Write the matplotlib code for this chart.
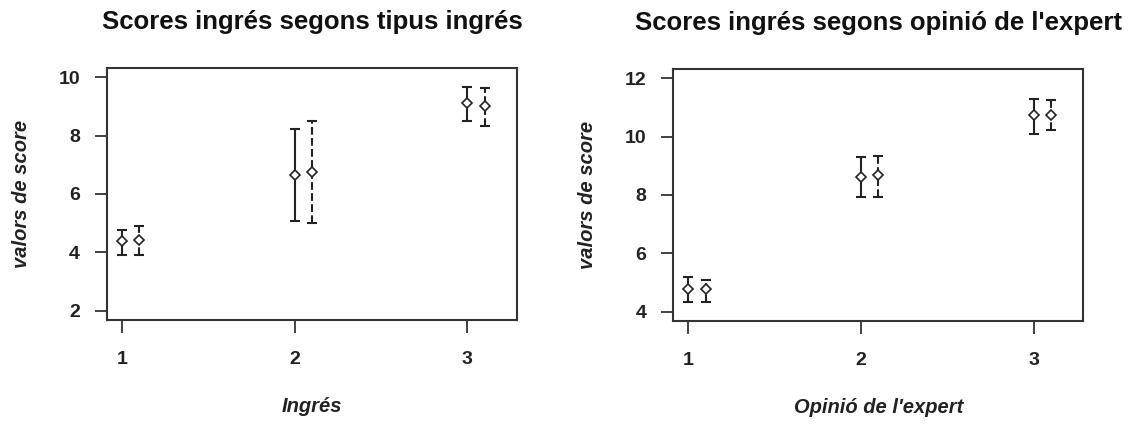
import matplotlib
matplotlib.use("Agg")
import matplotlib.pyplot as plt
import numpy as np

plt.rcParams['font.family'] = ['Liberation Sans', 'DejaVu Sans']

groups = [1, 2, 3]
offset = 0.1

# Panel 1: Scores ingrés segons tipus ingrés
p1_a_mean = [4.38, 6.65, 9.11]
p1_a_low = [3.90, 5.06, 8.49]
p1_a_high = [4.77, 8.21, 9.68]
p1_b_mean = [4.43, 6.76, 9.01]
p1_b_low = [3.92, 5.00, 8.32]
p1_b_high = [4.89, 8.50, 9.62]

# Panel 2: Scores ingrés segons opinió de l'expert
p2_a_mean = [4.79, 8.61, 10.75]
p2_a_low = [4.33, 7.93, 10.10]
p2_a_high = [5.19, 9.29, 11.30]
p2_b_mean = [4.77, 8.67, 10.73]
p2_b_low = [4.33, 7.93, 10.24]
p2_b_high = [5.10, 9.33, 11.24]

titles = ["Scores ingrés segons tipus ingrés", "Scores ingrés segons opinió de l'expert"]
xlabels = ["Ingrés", "Opinió de l'expert"]
ylabel = "valors de score"
yticks1 = [2, 4, 6, 8, 10]
yticks2 = [4, 6, 8, 10, 12]

fig = plt.figure(figsize=(11.31, 4.28), dpi=100)
ax1 = fig.add_axes([0.0946, 0.2523, 0.3625, 0.589])
ax2 = fig.add_axes([0.5953, 0.2500, 0.3625, 0.589])

def draw(ax, a_m, a_l, a_h, b_m, b_l, b_h, yticks, title, xlabel):
    xa = np.array(groups, dtype=float)
    xb = xa + offset
    for x, m, l, h, ls in [(xa, a_m, a_l, a_h, '-'), (xb, b_m, b_l, b_h, '--')]:
        m = np.array(m); l = np.array(l); h = np.array(h)
        eb = ax.errorbar(x, m, yerr=[m - l, h - m], fmt='none', ecolor='#222222',
                         elinewidth=1.5, capsize=3.8, capthick=1.5)
        eb[2][0].set_linestyle(ls)
        ax.plot(x, m, linestyle='none', marker='D', markersize=5.5,
                markerfacecolor='white', markeredgecolor='#222222', markeredgewidth=1.2, zorder=5)
    lo, hi = yticks[0], yticks[-1]
    pad = 0.04 * (hi - lo)
    ax.set_ylim(lo - pad, hi + pad)
    ax.set_xlim(1 - 0.04 * 2.2, 3.2 + 0.04 * 2.2)
    ax.set_xticks(groups)
    ax.set_xticklabels([str(g) for g in groups])
    ax.set_yticks(yticks)
    ax.set_yticklabels([str(t) for t in yticks])
    ax.tick_params(axis='both', length=9, width=1.3, color='#333333', labelsize=14)
    ax.tick_params(axis='y', pad=10.5)
    ax.tick_params(axis='x', pad=13)
    for lab in ax.get_xticklabels() + ax.get_yticklabels():
        lab.set_fontweight('bold')
        lab.set_color('#222222')
    for s in ax.spines.values():
        s.set_linewidth(1.5)
        s.set_color('#333333')
    ax.set_title(title, fontsize=18.5, fontweight='bold', pad=28, color='#111111')
    ax.set_xlabel(xlabel, fontsize=14.5, fontweight='bold', style='italic', labelpad=21, color='#222222')
    ax.set_ylabel(ylabel, fontsize=14.5, fontweight='bold', style='italic', labelpad=20, color='#222222')

draw(ax1, p1_a_mean, p1_a_low, p1_a_high, p1_b_mean, p1_b_low, p1_b_high, yticks1, titles[0], xlabels[0])
draw(ax2, p2_a_mean, p2_a_low, p2_a_high, p2_b_mean, p2_b_low, p2_b_high, yticks2, titles[1], xlabels[1])

fig.savefig("out.png", dpi=100)
